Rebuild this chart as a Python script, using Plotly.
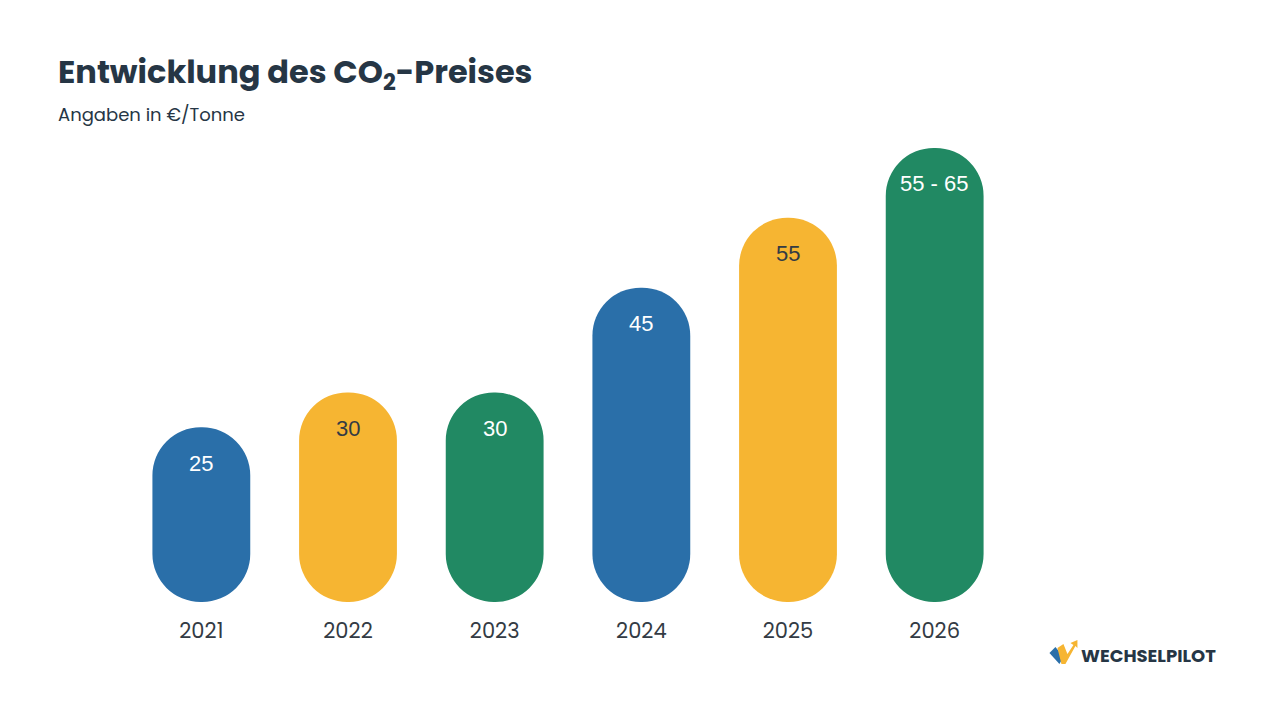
import plotly.graph_objects as go

years = ["2021", "2022", "2023", "2024", "2025", "2026"]
values = [25, 30, 30, 45, 55, 65]
labels = ["25", "30", "30", "45", "55", "55 - 65"]
colors = ["#2a6fa9", "#f6b532", "#218963", "#2a6fa9", "#f6b532", "#218963"]
label_colors = ["#ffffff", "#333b44", "#ffffff", "#ffffff", "#333b44", "#ffffff"]

xpos = list(range(len(years)))

fig = go.Figure()
# pill-shaped bars (explicit base -> both ends rounded)
fig.add_trace(go.Bar(
    x=xpos, y=values, base=0,
    marker=dict(color=colors, line=dict(width=0), cornerradius=49),
    hovertext=[f"{y}: {l}" for y, l in zip(years, labels)], hoverinfo="text",
    showlegend=False,
))

for xp, v, lab, lc in zip(xpos, values, labels, label_colors):
    fig.add_annotation(x=xp, y=v, text=lab, showarrow=False, yshift=-36,
                       font=dict(family="Liberation Sans, Arial", size=22, color=lc))

# page has an 8px body margin; figure pixel = page pixel - 8
OFF = 8
L, R, T, B = 119.5, 279.5, 105.4, 126
PW, PH = 1280 - L - R, 720 - T - B

fig.update_layout(
    width=1280, height=720,
    paper_bgcolor="white", plot_bgcolor="white",
    bargap=0.333,
    margin=dict(l=L, r=R, t=T, b=B, autoexpand=False),
    xaxis=dict(range=[-0.5, 5.5], tickvals=xpos, ticktext=years,
               showgrid=False, zeroline=False, showline=False,
               ticks="outside", ticklen=10, tickcolor="rgba(0,0,0,0)",
               tickfont=dict(family="Poppins, Inter, Lato", size=21, color="#333b44")),
    yaxis=dict(range=[0, 70], visible=False, fixedrange=True),
)

def px(xp, yp):
    return (xp - OFF - L) / PW, (720 - B - (yp - OFF)) / PH

tx, ty = px(55, 74)
fig.add_annotation(xref="paper", yref="paper", x=tx, y=ty, xanchor="left", yanchor="middle",
                   text="<b>Entwicklung des CO<sub>2</sub>-Preises</b>", showarrow=False,
                   font=dict(family="Poppins, Inter, Lato", size=32, color="#263645"))
sx, sy = px(55, 115)
fig.add_annotation(xref="paper", yref="paper", x=sx, y=sy, xanchor="left", yanchor="middle",
                   text="Angaben in €/Tonne", showarrow=False,
                   font=dict(family="Poppins, Inter, Lato", size=18, color="#263645"))

lx, ly = px(1080, 655)
fig.add_annotation(xref="paper", yref="paper", x=lx, y=ly, xanchor="left", yanchor="middle",
                   text="<b>WECHSELPILOT</b>", showarrow=False,
                   font=dict(family="Poppins, Inter, Lato", size=18, color="#263645"))

def path(points):
    s = ""
    for i, (a, b) in enumerate(points):
        xx, yy = px(a, b)
        s += ("M" if i == 0 else "L") + f"{xx:.5f},{yy:.5f} "
    return s + "Z"

fig.add_shape(type="path", xref="paper", yref="paper", line=dict(width=0),
              fillcolor="#2a6fa9",
              path=path([(1050, 653), (1056, 647), (1064, 657), (1060, 664)]))
fig.add_shape(type="path", xref="paper", yref="paper", line=dict(width=0),
              fillcolor="#f6b532",
              path=path([(1058, 648), (1064, 644), (1068, 654), (1074, 645), (1071, 643), (1078, 640),
                         (1078, 648), (1076, 646), (1066, 664), (1062, 664)]))

fig.write_html("out.html")
